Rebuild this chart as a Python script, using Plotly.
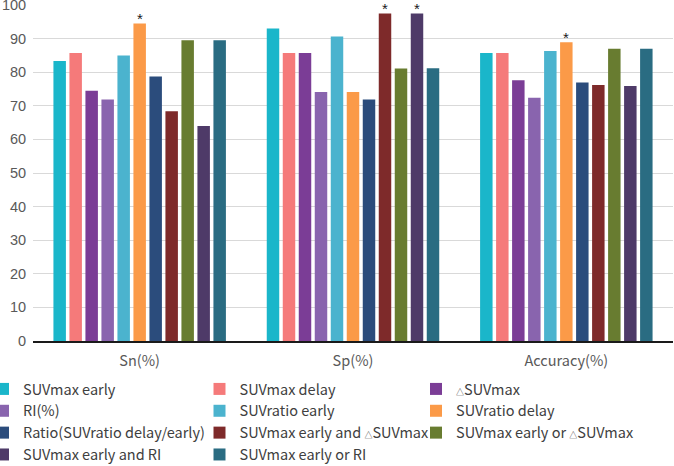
import plotly.graph_objects as go

categories = ["Sn(%)", "Sp(%)", "Accuracy(%)"]

tri = "<span style='font-size:8px'>△</span>"
series_names = [
    "SUVmax early",
    "SUVmax delay",
    tri + "SUVmax",
    "RI(%)",
    "SUVratio early",
    "SUVratio delay",
    "Ratio(SUVratio delay/early)",
    "SUVmax early and " + tri + "SUVmax",
    "SUVmax early or " + tri + "SUVmax",
    "SUVmax early and RI",
    "SUVmax early or RI",
]

suvmax_early = [83.3, 93.0, 85.7]
suvmax_delay = [85.7, 85.7, 85.7]
delta_suvmax = [74.5, 85.7, 77.6]
ri = [71.9, 74.1, 72.4]
suvratio_early = [85.0, 90.6, 86.3]
suvratio_delay = [94.5, 74.1, 88.9]
ratio = [78.7, 71.9, 76.9]
early_and_delta = [68.4, 97.5, 76.2]
early_or_delta = [89.5, 81.1, 87.0]
early_and_ri = [64.0, 97.5, 75.9]
early_or_ri = [89.5, 81.2, 87.0]

# significance markers: (series index, category index)
significant = [(5, 0), (7, 1), (9, 1), (5, 2)]

series_values = [
    suvmax_early, suvmax_delay, delta_suvmax, ri, suvratio_early,
    suvratio_delay, ratio, early_and_delta, early_or_delta, early_and_ri, early_or_ri,
]

colors = [
    "#1AB6CA", "#F57A7A", "#7B3D96", "#8964AE", "#4BB3CE", "#FB9A48",
    "#2B4C7C", "#7E2A2A", "#687C30", "#4E3A68", "#2A6C82",
]

W, H = 674, 466
ML, MR, MT, MB = 33, 1, 5, 125
BARGAP, BARGROUPGAP = 0.175, 0.22

fig = go.Figure()
for name, vals, col in zip(series_names, series_values, colors):
    fig.add_trace(go.Bar(
        name=name, x=categories, y=vals, marker_color=col, marker_line_width=0,
        hoverinfo="y+name",
    ))

# asterisks placed at the top of the relevant bars
plot_w = W - ML - MR
plot_h = H - MT - MB
n = len(series_values)
slot_px = plot_w / len(categories) * (1 - BARGAP) / n
for si, ci in significant:
    fig.add_annotation(
        x=categories[ci], y=series_values[si][ci], xref="x", yref="y",
        xshift=(si - (n - 1) / 2) * slot_px, yshift=5,
        text="*", showarrow=False, yanchor="middle",
        font=dict(size=15, color="#1a1a1a", family="Liberation Sans"),
    )

fig.update_layout(
    width=W, height=H,
    margin=dict(l=ML, r=MR, t=MT, b=MB, autoexpand=False),
    paper_bgcolor="white", plot_bgcolor="white",
    barmode="group", bargap=BARGAP, bargroupgap=BARGROUPGAP,
    font=dict(family="Noto Sans CJK SC", color="#595959", size=13),
    xaxis=dict(
        showline=True, linecolor="#1a1a1a", linewidth=1.5,
        ticks="outside", ticklen=6, tickcolor="rgba(0,0,0,0)",
        tickfont=dict(size=14.5, color="#595959"), automargin=False,
    ),
    yaxis=dict(
        range=[0, 100], dtick=10, showgrid=True, gridcolor="#D9D9D9", gridwidth=1,
        zeroline=False, showline=False,
        ticks="outside", ticklen=3, tickcolor="rgba(0,0,0,0)",
        tickfont=dict(size=14.5, color="#595959", family="Liberation Sans"),
        automargin=False, ticklabeloverflow="allow",
    ),
    legend=dict(
        orientation="h",
        x=-(ML + 2) / plot_w, xanchor="left",
        y=-(373 - (H - MB)) / plot_h, yanchor="top",
        entrywidth=186.5, entrywidthmode="pixels", itemwidth=30, indentation=-15,
        font=dict(size=14.5, color="#404040", family="Noto Sans CJK SC"),
        tracegroupgap=0, traceorder="normal",
    ),
)

fig.write_html(
    "out.html",
    config={"displayModeBar": False},
    post_script="document.body.style.margin='0';document.body.style.padding='0';",
)
